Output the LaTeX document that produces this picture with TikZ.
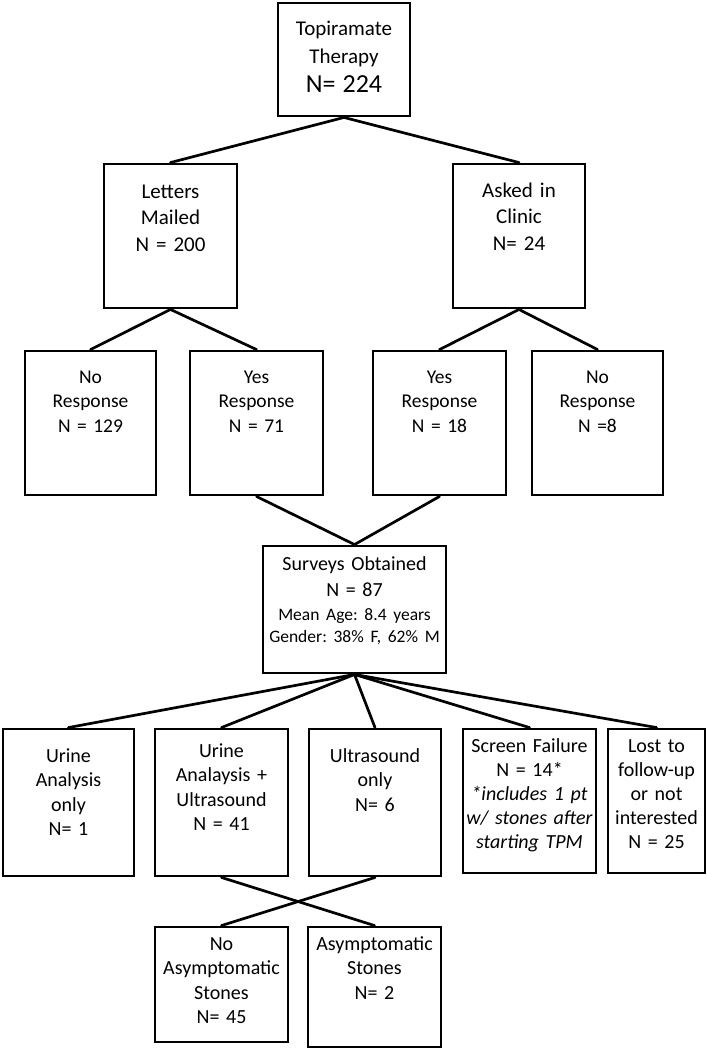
\documentclass[tikz,border=0pt]{standalone}
\usepackage{fontspec}
\setmainfont{Carlito}
\usepackage{tikz}
\frenchspacing

\begin{document}
\begin{tikzpicture}[x=1pt,y=-1pt,line cap=round,
  blk/.style={draw,line width=2.9pt,inner sep=0pt,align=center,font=\fontsize{20}{24.5}\selectfont},
  link/.style={line width=2.7pt}]
\useasboundingbox[fill=white] (0,0) rectangle (707,1050);
% top
\node[blk,text width=132pt,text height=32pt,text depth=81pt,font=\fontsize{21}{28.5}\selectfont] (tpm) at (344,59.5) {Topiramate\\Therapy\\{\fontsize{26}{28.5}\selectfont N= 224}};
% recruitment
\node[blk,text width=133pt,text height=34pt,text depth=110pt,font=\fontsize{21}{26.5}\selectfont] (mail) at (170.5,236) {Letters\\Mailed\\N = 200};
\node[blk,text width=132pt,text height=33pt,text depth=111pt,font=\fontsize{21}{26.5}\selectfont] (clinic) at (519,236) {Asked in\\Clinic\\N= 24};
% responses
\node[blk,text width=131pt,text height=32pt,text depth=112pt,font=\fontsize{19.5}{24.5}\selectfont] (nor1) at (90.5,423) {No\\Response\\N = 129};
\node[blk,text width=133pt,text height=32pt,text depth=112pt,font=\fontsize{19.5}{24.5}\selectfont] (yes1) at (256.5,423) {Yes\\Response\\N = 71};
\node[blk,text width=133pt,text height=32pt,text depth=112pt,font=\fontsize{19.5}{24.5}\selectfont] (yes2) at (439.5,423) {Yes\\Response\\N = 18};
\node[blk,text width=131pt,text height=32pt,text depth=112pt,font=\fontsize{19.5}{24.5}\selectfont] (nor2) at (597.5,423) {No\\Response\\N =8};
% surveys
\node[blk,text width=183pt,text height=24pt,text depth=103pt,font=\fontsize{20}{25}\selectfont] (surv) at (354.5,609.5) {Surveys Obtained\\[1pt]N = 87\\[-1pt]{\fontsize{17.5}{25}\selectfont Mean Age: 8.4 years}\\[-3pt]{\fontsize{17.5}{25}\selectfont Gender: 38\% F, 62\% M}};
% studies
\node[blk,text width=131pt,text height=33pt,text depth=114pt] (urine) at (68.5,802.5) {Urine\\Analysis\\only\\N= 1};
\node[blk,text width=133pt,text height=28pt,text depth=119pt] (both) at (221.5,802.5) {Urine\\Analaysis +\\Ultrasound\\N = 41};
\node[blk,text width=132pt,text height=33pt,text depth=114pt] (us) at (375,802.5) {Ultrasound\\only\\N= 6};
\node[blk,text width=133pt,text height=23pt,text depth=121pt,font=\fontsize{20}{24}\selectfont] (scr) at (529.5,801) {Screen Failure\\N = 14*\\\textit{*includes 1 pt}\\\textit{w/ stones after}\\\textit{starting TPM}};
\node[blk,text width=97pt,text height=23pt,text depth=121pt,font=\fontsize{20}{24}\selectfont] (lost) at (656.5,801) {Lost to\\follow-up\\or not\\interested\\N = 25};
% stones
\node[blk,text width=133pt,text height=23pt,text depth=92pt] (noas) at (221.5,984.5) {No\\Asymptomatic\\Stones\\N= 45};
\node[blk,text width=133pt,text height=23pt,text depth=97pt] (asym) at (374.5,987) {Asymptomatic\\Stones\\N= 2};
% links
\draw[link] (tpm.south) -- (mail.north);
\draw[link] (tpm.south) -- (clinic.north);
\draw[link] (mail.south) -- (nor1.north);
\draw[link] (mail.south) -- (yes1.north);
\draw[link] (clinic.south) -- (yes2.north);
\draw[link] (clinic.south) -- (nor2.north);
\draw[link] (yes1.south) -- (surv.north);
\draw[link] (yes2.south) -- (surv.north);
\draw[link] (surv.south) -- (urine.north);
\draw[link] (surv.south) -- (both.north);
\draw[link] (surv.south) -- (us.north);
\draw[link] (surv.south) -- (scr.north);
\draw[link] (surv.south) -- (lost.north);
\draw[link] (both.south) -- (asym.north);
\draw[link] (us.south) -- (noas.north);
\end{tikzpicture}
\end{document}
